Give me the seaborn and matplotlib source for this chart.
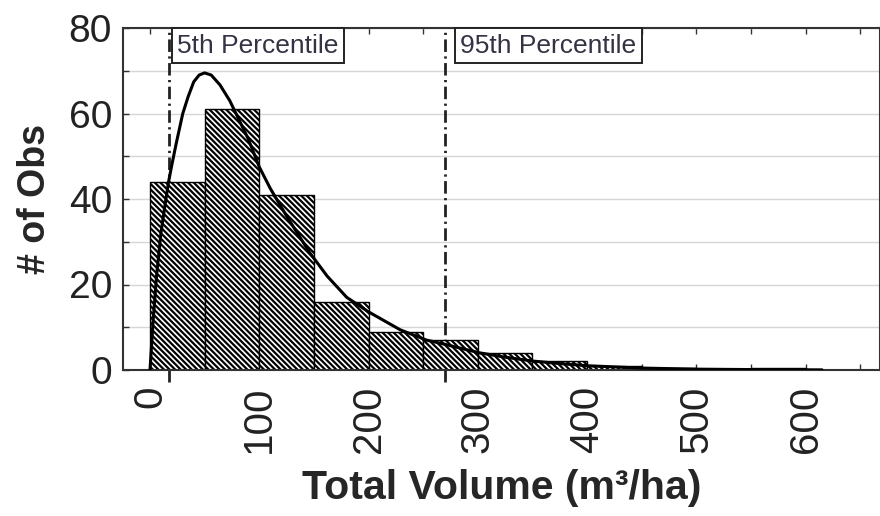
import matplotlib
matplotlib.use("Agg")
import matplotlib.pyplot as plt
import matplotlib.transforms as mtransforms
from matplotlib.ticker import MultipleLocator
import numpy as np
import pandas as pd
import seaborn as sns

# ---- data ----
bin_edges = [0, 50, 100, 150, 200, 250, 300, 350, 400, 450, 500, 550, 600]
bin_counts = [44, 61, 41, 16, 9, 7, 4, 2, 1, 0.5, 0, 0.5]

curve_x = [0, 1, 3, 6, 10, 14, 17, 20, 24, 30, 35, 40, 45, 50, 56, 64, 73, 80,
           90, 100, 110, 125, 146, 162, 180, 200, 229, 253, 270, 284, 302, 325,
           350, 375, 400, 450, 500, 550, 615]
curve_y = [0, 4, 12, 22, 32, 39, 44, 48, 53, 60, 64, 67.4, 69, 69.5, 69, 66.7,
           63, 59.3, 54, 47.5, 42.5, 36, 27.5, 22, 17, 13.6, 9.4, 7, 6, 5.1, 4,
           3, 2.1, 1.5, 1.0, 0.45, 0.2, 0.1, 0.03]

pct_labels = ["5th Percentile", "95th Percentile"]
pct_values = [17.4, 270]

x_ticks = [0, 100, 200, 300, 400, 500, 600]
y_ticks = [0, 20, 40, 60, 80]

x_label = "Total Volume (m³/ha)"
y_label = "# of Obs"

# ---- style ----
sns.set_theme(style="white")
plt.rcParams["font.family"] = ["Liberation Sans", "DejaVu Sans"]
plt.rcParams["hatch.linewidth"] = 1.6
plt.rcParams["hatch.color"] = "black"

fig = plt.figure(figsize=(8.8, 5.16), dpi=100)
W, H = 880, 516
ax = fig.add_axes([123 / W, 1 - 370 / H, (W - 123) / W, (370 - 28) / H])

ax.set_xlim(-24.7, 668)
ax.set_ylim(0, 80)

# grid
ax.set_axisbelow(True)
ax.yaxis.set_major_locator(MultipleLocator(20))
ax.yaxis.set_minor_locator(MultipleLocator(10))
ax.xaxis.set_major_locator(MultipleLocator(100))
ax.xaxis.set_minor_locator(MultipleLocator(50))
ax.grid(False)
ax.yaxis.grid(True, which="both", color="#d6d6d6", linewidth=1.0, zorder=0)

# percentile lines (under bars)
for v in pct_values:
    ax.axvline(v, ymin=-0.035, ymax=1.0, color="#222222", linewidth=2.0,
               dashes=(4.5, 1.6, 0.8, 1.6), clip_on=False, zorder=1)

# histogram
df = pd.DataFrame({"mid": np.array(bin_edges[:-1]) + 25, "count": bin_counts})
sns.histplot(data=df, x="mid", weights="count", bins=bin_edges, ax=ax,
             color="white", edgecolor="black", linewidth=1.0, alpha=1.0,
             zorder=2)
for p in ax.patches:
    p.set_hatch("\\" * 6)
    p.set_facecolor("white")
    p.set_edgecolor("black")
    p.set_zorder(2)

# fitted curve
sns.lineplot(x=curve_x, y=curve_y, ax=ax, color="black", linewidth=2.2,
             zorder=5, sort=False)

# percentile labels
trans = mtransforms.blended_transform_factory(ax.transData, ax.transAxes)
offsets = [6, 11]
for lab, v, off in zip(pct_labels, pct_values, offsets):
    ax.annotate(lab, xy=(v, 1.0), xycoords=trans,
                xytext=(off, -4), textcoords="offset points",
                ha="left", va="top", fontsize=19, color="#333344",
                bbox=dict(boxstyle="square,pad=0.2", fc="white",
                          ec="#222222", lw=1.4),
                zorder=6, annotation_clip=False)

# ticks
ax.set_xticks(x_ticks)
ax.set_yticks(y_ticks)
ax.set_xticklabels([str(t) for t in x_ticks], rotation=90, ha="center",
                   va="top")
ax.tick_params(axis="both", which="both", direction="in", color="#333333",
               length=4, width=1.0, top=True, bottom=True, left=True,
               right=False)
ax.tick_params(axis="y", labelsize=28, pad=8, labelcolor="#222222")
ax.tick_params(axis="x", labelsize=29, pad=11, labelcolor="#222222")

for s in ax.spines.values():
    s.set_color("#333333")
    s.set_linewidth(1.5)

ax.set_xlabel(x_label, fontsize=29.5, fontweight="bold", labelpad=12)
ax.set_ylabel(y_label, fontsize=27, fontweight="bold", labelpad=11)

fig.savefig("out.png", dpi=100)
